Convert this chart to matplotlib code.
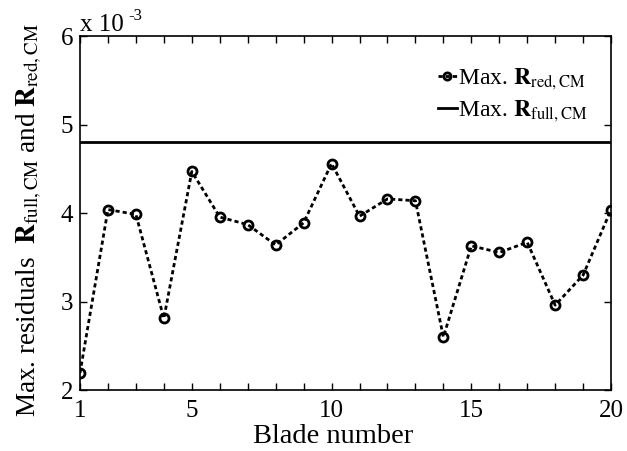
import matplotlib
matplotlib.use('Agg')
import matplotlib.pyplot as plt
from matplotlib.ticker import FuncFormatter

# blade numbers and max residuals
blade = list(range(1, 21))
max_res_red = [2.195e-3, 4.04e-3, 3.985e-3, 2.81e-3, 4.47e-3, 3.955e-3, 3.87e-3, 3.64e-3, 3.89e-3, 4.56e-3,
               3.965e-3, 4.16e-3, 4.14e-3, 2.60e-3, 3.63e-3, 3.555e-3, 3.67e-3, 2.96e-3, 3.30e-3, 4.04e-3]
max_res_full = 4.80e-3
xtick_labels = [1, 5, 10, 15, 20]
ytick_vals = [2e-3, 3e-3, 4e-3, 5e-3, 6e-3]

plt.rcParams['font.family'] = ['Liberation Serif', 'DejaVu Serif']
plt.rcParams['mathtext.fontset'] = 'stix'

fig = plt.figure(figsize=(6.27, 4.51), dpi=100)
ax = fig.add_axes([0.1276, 0.135, 0.847, 0.785])

ax.plot(blade, max_res_red, color='k', linestyle=(0, (1.5, 1.1)), linewidth=2,
        marker='o', markersize=6.5, markerfacecolor='none', markeredgewidth=2,
        label=r'Max. $\mathbf{R}_{\mathrm{red,CM}}$')
ax.axhline(max_res_full, color='k', linewidth=2, label=r'Max. $\mathbf{R}_{\mathrm{full,CM}}$')

ax.set_xlim(1, 20)
ax.set_ylim(2e-3, 6e-3)
ax.set_xticks(blade)
ax.set_xticklabels([str(b) if b in xtick_labels else '' for b in blade])
ax.set_yticks(ytick_vals)
ax.yaxis.set_major_formatter(FuncFormatter(lambda v, p: '%g' % round(v * 1e3, 3)))
ax.tick_params(direction='in', top=True, right=True, labelsize=18, length=5, width=1, pad=5)
ax.tick_params(axis='x', pad=7)
for s in ax.spines.values():
    s.set_linewidth(1.2)

ax.text(0.0, 1.0, 'x 10', transform=ax.transAxes, fontsize=18, ha='left', va='bottom')
ax.text(0.092, 1.035, '-3', transform=ax.transAxes, fontsize=12, ha='left', va='bottom')

ax.set_xlabel('Blade number', fontsize=20.5)
ax.xaxis.set_label_coords(0.476, -0.095)
ax.set_ylabel(r'Max. residuals  $\mathbf{R}_{\mathrm{full,CM}}$ and $\mathbf{R}_{\mathrm{red,CM}}$',
              fontsize=19.5)
ax.yaxis.set_label_coords(-0.068, 0.48)

ax.legend(loc='upper right', frameon=False, fontsize=17, handlelength=0.8, handletextpad=0.05,
          labelspacing=0.3, bbox_to_anchor=(0.995, 0.975), markerscale=0.8)

fig.savefig('out.png', dpi=100)
